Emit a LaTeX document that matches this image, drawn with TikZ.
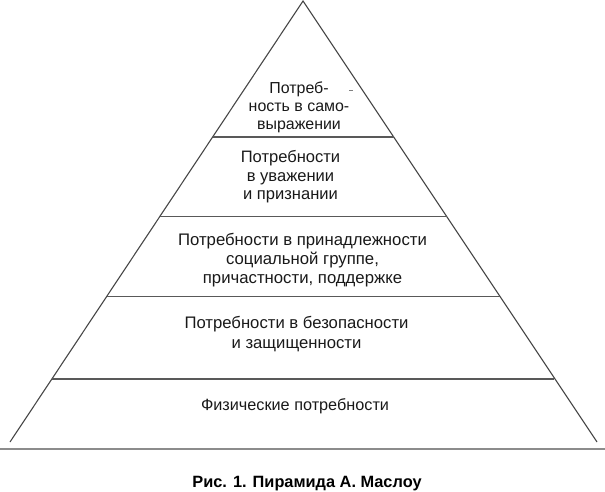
\documentclass[tikz,border=0pt]{standalone}
\usepackage{fontspec}
\setmainfont{Liberation Sans}
\begin{document}
\begin{tikzpicture}[x=1bp,y=-1bp,
  side/.style={draw=black!72, line width=1.1bp},
  tier/.style={draw=black!65, line width=1.2bp},
  baseln/.style={draw=black!45, line width=1.6bp},
  lbl/.style={inner sep=0pt, text=black!90, align=center, anchor=base},
  captext/.style={font=\fontsize{16.4}{18}\selectfont\bfseries, inner sep=0pt, anchor=base}]
\useasboundingbox (0,0) rectangle (605,492);
% pyramid corners
\coordinate (apex) at (303,1);
\coordinate (bl) at (10,442);
\coordinate (br) at (597,442);
\draw[side] (bl) -- (apex) -- (br);
% tier lines
\coordinate (l1) at (212.5,137); \coordinate (r1) at (393.5,137);
\coordinate (l2) at (159.5,216.5); \coordinate (r2) at (446.5,216.5);
\coordinate (l3) at (106.5,296.5); \coordinate (r3) at (499.5,296.5);
\coordinate (l4) at (52,379); \coordinate (r4) at (554,379);
\coordinate (b0) at (0,449); \coordinate (b1) at (605,449);
\draw[tier] (l1) -- (r1);
\draw[tier] (l2) -- (r2);
\draw[tier] (l3) -- (r3);
\draw[tier] (l4) -- (r4);
\draw[baseln] (b0) -- (b1);
% small stray mark
\coordinate (m0) at (349,91); \coordinate (m1) at (353,91);
\draw[draw=black!50, line width=1bp] (m0) -- (m1);
% labels (anchored at last baseline)
\node[lbl, font=\fontsize{16}{18.5}\selectfont] (t1) at (299,130) {Потреб-\\ность в само-\\выражении};
\node[lbl, font=\fontsize{16.6}{19}\selectfont] (t2) at (290.5,200) {Потребности\\в уважении\\и признании};
\node[lbl, font=\fontsize{16.8}{19}\selectfont] (t3) at (302.5,283) {Потребности в принадлежности\\социальной группе,\\причастности, поддержке};
\node[lbl, font=\fontsize{16.75}{20}\selectfont] (t4) at (296.5,348) {Потребности в безопасности\\и защищенности};
\node[lbl, font=\fontsize{16.3}{19.5}\selectfont] (t5) at (295,410) {Физические потребности};
\node[captext] (c) at (307,487) {Рис. 1. Пирамида А. Маслоу};
\end{tikzpicture}
\end{document}
